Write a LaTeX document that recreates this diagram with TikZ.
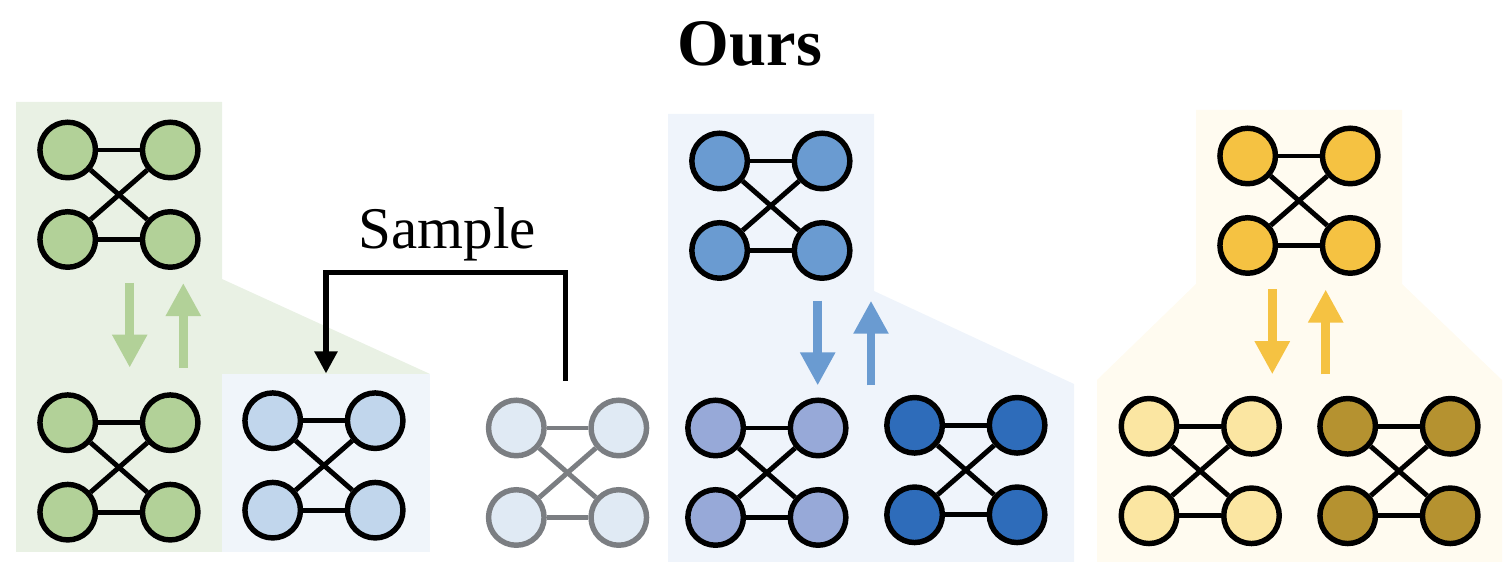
\documentclass[tikz,border=0pt]{standalone}
\usepackage{fontspec}
\setmainfont{Liberation Serif}
\usepackage{xcolor}
\usetikzlibrary{arrows.meta}
\definecolor{fondVert}{HTML}{E9F1E4}
\definecolor{fondBleuPale}{HTML}{F0F5FA}
\definecolor{fondBleu}{HTML}{EFF4FB}
\definecolor{fondJaune}{HTML}{FFFBF0}
\definecolor{vert}{HTML}{B2D198}
\definecolor{bleuPale}{HTML}{C1D6EC}
\definecolor{bleuGris}{HTML}{E0EAF4}
\definecolor{bleu}{HTML}{6A9BD1}
\definecolor{pervenche}{HTML}{97A9D8}
\definecolor{bleuFonce}{HTML}{2E6CBA}
\definecolor{jaune}{HTML}{F5C242}
\definecolor{jaunePale}{HTML}{FBE6A2}
\definecolor{ocre}{HTML}{B59230}
\definecolor{gris}{HTML}{7B7E82}
\begin{document}
\begin{tikzpicture}[x=0.01cm,y=-0.01cm]
% Styles
\tikzstyle{noeud}=[circle,draw,line width=1.55pt,minimum size=0.555cm,inner sep=0pt]
\tikzstyle{arete}=[line width=1.4pt]
\tikzstyle{fleche}=[-{Triangle[length=9.4pt,width=9.4pt]},line width=2.5pt]
\tikzstyle{coude}=[-{Triangle[length=6.3pt,width=6.3pt]},line width=1.5pt]
% Dimensions
\def\DistanceX{102.5}
\def\DistanceY{89.5}
% Graphe : nom, x, y, remplissage, trait
\def\Graphe#1#2#3#4#5{
\node[noeud,fill=#4,draw=#5] (#1a) at ({#2},{#3}) {};
\node[noeud,fill=#4,draw=#5] (#1b) at ({#2+\DistanceX},{#3}) {};
\node[noeud,fill=#4,draw=#5] (#1c) at ({#2},{#3+\DistanceY}) {};
\node[noeud,fill=#4,draw=#5] (#1d) at ({#2+\DistanceX},{#3+\DistanceY}) {};
\draw[arete,#5] (#1a)--(#1b);
\draw[arete,#5] (#1c)--(#1d);
\draw[arete,#5] (#1a)--(#1d);
\draw[arete,#5] (#1b)--(#1c);
}
\useasboundingbox (0,0) rectangle (1508,562);
% Fonds
\fill[fondVert] (16,102)--(222,102)--(222,279)--(430,374)--(222,374)--(222,552)--(16,552)--cycle;
\fill[fondBleuPale] (222,374) rectangle (430,552);
\fill[fondBleu] (668,114)--(874,114)--(874,291)--(1074,384)--(1074,562)--(668,562)--cycle;
\fill[fondJaune] (1196,110)--(1402,110)--(1402,284)--(1502,380)--(1502,562)--(1097,562)--(1097,380)--(1196,284)--cycle;
% Textes
\node[font=\fontsize{18.9}{20}\selectfont\bfseries,anchor=base] (titre) at (750,66) {Ours};
\node[font=\fontsize{16.8}{18}\selectfont,anchor=base] (sample) at (447.5,249) {Sample};
% Graphes
\Graphe{A}{67.7}{150}{vert}{black}
\Graphe{B}{67.7}{422.7}{vert}{black}
\Graphe{C}{272.7}{420.7}{bleuPale}{black}
\Graphe{D}{516.3}{428}{bleuGris}{gris}
\Graphe{E}{719.6}{161}{bleu}{black}
\Graphe{F}{715.6}{428}{pervenche}{black}
\Graphe{G}{914.6}{425.3}{bleuFonce}{black}
\Graphe{H}{1247.7}{156}{jaune}{black}
\Graphe{I}{1149}{426.3}{jaunePale}{black}
\Graphe{J}{1347.7}{426.3}{ocre}{black}
% Points des fleches
\coordinate (Ah) at (129.7,283);
\coordinate (Ab) at (129.7,367.7);
\coordinate (Bb) at (183.3,367.7);
\coordinate (Bh) at (183.3,283);
\coordinate (Eh) at (817.7,300.7);
\coordinate (Eb) at (817.7,385.5);
\coordinate (Fb) at (871,385.5);
\coordinate (Fh) at (871,300.7);
\coordinate (Hh) at (1272.3,289.5);
\coordinate (Hb) at (1272.3,374.3);
\coordinate (Ib) at (1325.7,374.3);
\coordinate (Ih) at (1325.7,289.5);
\coordinate (Sd) at (565.7,380.7);
\coordinate (Sh) at (565.7,272.5);
\coordinate (Sg) at (326,272.5);
\coordinate (Sa) at (326,373.5);
% Fleches
\draw[fleche,vert] (Ah)--(Ab);
\draw[fleche,vert] (Bb)--(Bh);
\draw[fleche,bleu] (Eh)--(Eb);
\draw[fleche,bleu] (Fb)--(Fh);
\draw[fleche,jaune] (Hh)--(Hb);
\draw[fleche,jaune] (Ib)--(Ih);
\draw[coude] (Sd)--(Sh)--(Sg)--(Sa);
\end{tikzpicture}
\end{document}
